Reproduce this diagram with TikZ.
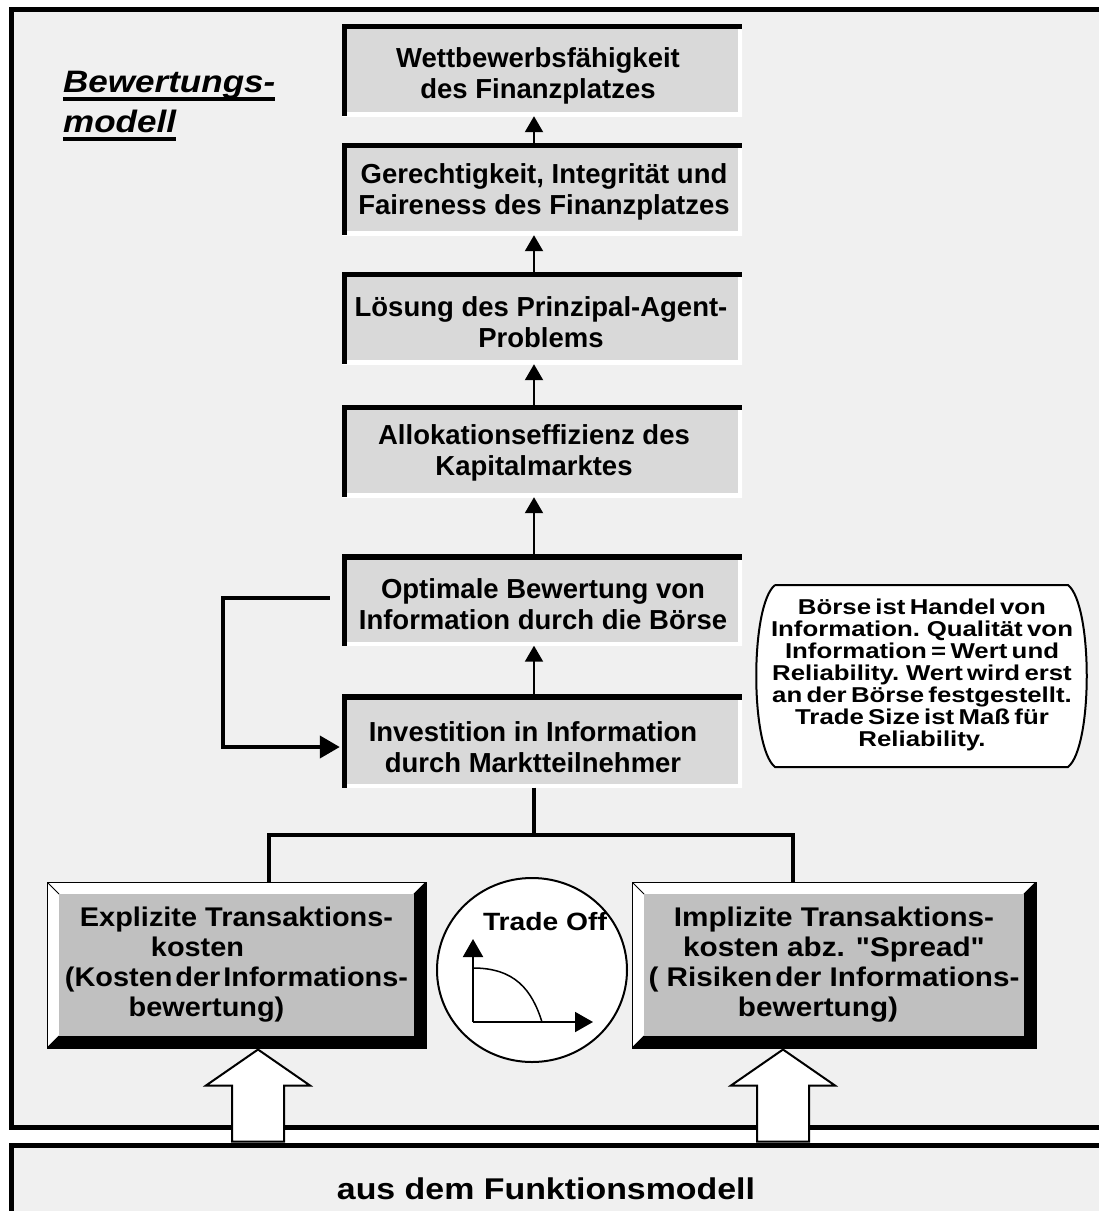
\documentclass[tikz,border=0pt]{standalone}
\usepackage{fontspec}
\setmainfont{Liberation Sans}
\newfontfamily\boxfont{Liberation Sans}
\newfontfamily\widefont{Liberation Sans}[FakeStretch=1.13]
\newfontfamily\leftfont{Liberation Sans}[FakeStretch=1.07]
\newfontfamily\rightfont{Liberation Sans}[FakeStretch=1.1]
\newfontfamily\notefont{Liberation Sans}[FakeStretch=1.2,WordSpace=0.6]
\usetikzlibrary{arrows.meta,shapes.geometric}

\definecolor{panelbg}{HTML}{F0F0F0}
\definecolor{stackgray}{HTML}{D9D9D9}
\definecolor{bevelgray}{HTML}{C0C0C0}

% thick underline for the heading
\newcommand\headul[1]{\setbox0\hbox{#1}\rlap{\usebox0}\rule[-9pt]{\wd0}{4pt}}
\newcommand\tight{\hspace{3pt}}

\begin{document}
\begin{tikzpicture}[x=1pt,y=-1pt,
  panelline/.style={draw=black,line width=5pt},
  stack/.style={minimum width=400pt,minimum height=92pt,inner sep=0pt,
    fill=stackgray,
    path picture={
      \draw[white,line width=8pt]
        (path picture bounding box.north east) -- (path picture bounding box.south east)
        -- (path picture bounding box.south west);
      \draw[black,line width=10pt]
        (path picture bounding box.south west) -- (path picture bounding box.north west)
        -- (path picture bounding box.north east);
    }},
  stacktext/.style={align=center,inner sep=0pt,
    font=\boxfont\bfseries\fontsize{27.5}{31}\selectfont},
  bevel/.style={minimum height=166pt,inner sep=0pt,fill=white,draw=black,line width=1pt,
    align=center,
    path picture={
      \fill[black] (path picture bounding box.north east) -- (path picture bounding box.south east)
        -- (path picture bounding box.south west)
        -- ([shift={(12pt,12pt)}]path picture bounding box.south west)
        -- ([shift={(-12pt,12pt)}]path picture bounding box.south east)
        -- ([shift={(-12pt,-12pt)}]path picture bounding box.north east) -- cycle;
      \fill[bevelgray] ([shift={(12pt,12pt)}]path picture bounding box.south west)
        rectangle ([shift={(-12pt,-12pt)}]path picture bounding box.north east);
      \draw[black,line width=0.8pt]
        (path picture bounding box.north west) -- ++(12pt,-12pt)
        (path picture bounding box.south west) -- ++(12pt,12pt)
        (path picture bounding box.north east) -- ++(-12pt,-12pt);
    }},
  up/.style={draw=black,line width=2pt,-{Triangle[width=18pt,length=16pt]}},
  tree/.style={draw=black,line width=4pt},
  loop/.style={draw=black,line width=4pt,line join=miter,-{Triangle[width=22pt,length=20pt]}},
  axis/.style={draw=black,line width=2pt,-{Triangle[width=20pt,length=18pt]}},
  bigarrow/.style={draw=black,line width=2pt,fill=white,line join=miter}
]
\useasboundingbox (0,0) rectangle (1099,1211);
\fill[white] (0,0) rectangle (1099,1211);

% two panels, running off the right edge
\fill[panelbg] (11.5,9.5) rectangle (1099,1127.5);
\draw[panelline] (1099,9.5) -- (11.5,9.5) -- (11.5,1127.5) -- (1099,1127.5);
\fill[panelbg] (11.5,1145.5) rectangle (1099,1211);
\draw[panelline] (1099,1145.5) -- (11.5,1145.5) -- (11.5,1211);

% heading
\node[anchor=base west,align=left,inner sep=0pt,
  font=\widefont\bfseries\itshape\fontsize{31}{40}\selectfont] (title) at (63,132)
  {\headul{Bewertungs-}\\\headul{modell}};

% chain of effects
\node[stack] (b1) at (542,70)  {};
\node[stack] (b2) at (542,189) {};
\node[stack] (b3) at (542,318) {};
\node[stack] (b4) at (542,451) {};
\node[stack,minimum height=91pt] (b5) at (542,600) {};
\node[stack,minimum height=93pt] (b6) at (542,741) {};

\node[stacktext] (t1) at (538,76)  {Wettbewerbsfähigkeit\\des Finanzplatzes};
\node[stacktext] (t2) at (544,192) {Gerechtigkeit, Integrität und\\Faireness des Finanzplatzes};
\node[stacktext] (t3) at (541,322) {Lösung des Prinzipal-Agent-\\Problems};
\node[stacktext] (t4) at (534,453) {Allokationseffizienz des\\Kapitalmarktes};
\node[stacktext] (t5) at (543,604) {Optimale Bewertung von\\Information durch die Börse};
\node[stacktext] (t6) at (533,747) {Investition in Information\\durch Marktteilnehmer};

\foreach \lo/\hi in {b2/b1,b3/b2,b4/b3,b5/b4,b6/b5}
  \draw[up] ([xshift=-8pt]\lo.north) -- ([xshift=-8pt]\hi.south);

% feedback loop
\draw[loop] ([xshift=-12pt,yshift=2pt]b5.west) -- ++(-107,0) |- ([xshift=-2pt,yshift=-6pt]b6.west);

% note
\draw[black,line width=2pt,fill=white]
  (775,585) -- (1068,585) .. controls (1093,605) and (1093,747) .. (1068,767)
  -- (775,767) .. controls (750,747) and (750,605) .. (775,585);
\node[align=center,inner sep=0pt,
  font=\notefont\bfseries\fontsize{21.5}{22}\selectfont] (note) at (922,675)
  {Börse ist Handel von\\Information. Qualität von\\Information = Wert und\\Reliability. Wert wird erst\\an der Börse festgestellt.\\Trade Size ist Maß für\\Reliability.};

% transaction cost boxes
\node[bevel,minimum width=379pt,font=\leftfont\bfseries\fontsize{27}{30}\selectfont] (left) at (236.5,965)
  {Explizite Transaktions-\\\mbox{kosten\hspace{78pt}}\\(Kosten\tight der\tight Informations-\\\mbox{bewertung)\hspace{60pt}}};
\node[bevel,minimum width=404pt,font=\rightfont\bfseries\fontsize{27}{30}\selectfont] (right) at (834,965)
  {Implizite Transaktions-\\kosten abz. "Spread"\\( Risiken\tight der Informations-\\\mbox{bewertung)\hspace{32pt}}};

% branching connector
\coordinate (lx) at (269,0);
\coordinate (rx) at (793,0);
\draw[tree] ([xshift=-8pt]b6.south) -- ++(0,47) coordinate (j);
\draw[tree] (left.north -| lx) |- (j) -| (right.north -| rx);

% trade-off sketch
\node[draw=black,line width=2pt,fill=white,ellipse,minimum width=190pt,minimum height=184pt] (to) at (532,970) {};
\node[font=\widefont\bfseries\fontsize{25}{30}\selectfont,inner sep=0pt] (tolabel) at (545,922) {Trade Off};
\draw[axis] (473,1022) -- (473,939);
\draw[axis] (473,1022) -- (593,1022);
\draw[black,line width=1.5pt] (473,968) .. controls (515,968) and (532,990) .. (542,1022);

% inputs from the function model
\coordinate (ax1) at (258,0);
\coordinate (ax2) at (783,0);
\foreach \b/\a in {left/ax1,right/ax2}
  \draw[bigarrow] ([yshift=-1pt]\b.south -| \a) -- ++(52,36) -- ++(-26,0) -- ++(0,56)
    -- ++(-52,0) -- ++(0,-56) -- ++(-26,0) -- cycle;

\node[font=\widefont\bfseries\fontsize{30}{36}\selectfont,inner sep=0pt] (source) at (546,1189)
  {aus dem Funktionsmodell};
\end{tikzpicture}
\end{document}
